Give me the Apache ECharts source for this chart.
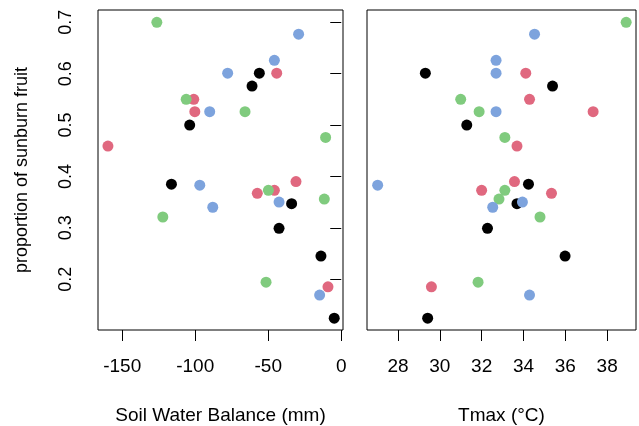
<!DOCTYPE html>
<html>
<head>
<meta charset="utf-8">
<script src="https://cdn.jsdelivr.net/npm/echarts@6/dist/echarts.min.js"></script>
<style>
  html, body { margin: 0; padding: 0; background: #fff; }
  #chart { width: 639px; height: 426px; }
</style>
</head>
<body>
<div id="chart"></div>
<script>
// groups (point colours) and the values
var groupColors = ["#000000", "#E0687F", "#80CB7E", "#7DA3DD"];

// soil water balance (mm), per group
var swbBlack = [-56.1, -61.1, -103.8, -116.3, -34.0, -42.6, -13.9, -4.8];
var swbRed   = [-44.2, -101.0, -100.3, -159.8, -31.0, -45.8, -57.5, -9.1];
var swbGreen = [-126.3, -106.2, -65.9, -10.7, -49.9, -11.6, -122.2, -51.5];
var swbBlue  = [-29.2, -45.8, -77.8, -90.1, -96.9, -42.6, -88.0, -14.8];

// Tmax (°C), per group
var tmaxBlack = [29.31, 35.39, 31.29, 34.24, 33.69, 32.28, 35.99, 29.42];
var tmaxRed   = [34.11, 34.29, 37.33, 33.69, 33.57, 32.0, 35.34, 29.6];
var tmaxGreen = [38.91, 31.0, 31.88, 33.11, 33.11, 32.83, 34.79, 31.83];
var tmaxBlue  = [34.53, 32.69, 32.69, 32.69, 27.03, 33.95, 32.53, 34.29];

// proportion of sunburn fruit, per group
var propBlack = [0.601, 0.576, 0.500, 0.385, 0.347, 0.299, 0.245, 0.124];
var propRed   = [0.601, 0.550, 0.526, 0.459, 0.390, 0.373, 0.367, 0.185];
var propGreen = [0.700, 0.550, 0.526, 0.476, 0.373, 0.356, 0.321, 0.194];
var propBlue  = [0.677, 0.626, 0.601, 0.526, 0.383, 0.350, 0.340, 0.169];

// tick labels
var yTicks = [0.2, 0.3, 0.4, 0.5, 0.6, 0.7];
var swbTicks = [-150, -100, -50, 0];
var tmaxTicks = [28, 30, 32, 34, 36, 38];

var swbGroups = [swbBlack, swbRed, swbGreen, swbBlue];
var tmaxGroups = [tmaxBlack, tmaxRed, tmaxGreen, tmaxBlue];
var propGroups = [propBlack, propRed, propGreen, propBlue];

var font = "Liberation Sans, Arial, sans-serif";

function pairs(xs, ys) {
  return xs.map(function (x, i) { return [x, ys[i]]; });
}

var series = [];
for (var g = 0; g < 4; g++) {
  series.push({
    type: "scatter", xAxisIndex: 0, yAxisIndex: 0,
    symbolSize: 11, itemStyle: { color: groupColors[g], opacity: 1 },
    data: pairs(swbGroups[g], propGroups[g])
  });
  series.push({
    type: "scatter", xAxisIndex: 1, yAxisIndex: 1,
    symbolSize: 11, itemStyle: { color: groupColors[g], opacity: 1 },
    data: pairs(tmaxGroups[g], propGroups[g])
  });
}

function xAxis(idx, min, max, ticks, name) {
  return {
    type: "value", gridIndex: idx, min: min, max: max,
    name: name, nameLocation: "middle", nameGap: 76,
    nameTextStyle: { color: "#000", fontSize: 19, fontFamily: font },
    axisLine: { show: false },
    axisTick: { show: true, length: 11, customValues: ticks, lineStyle: { color: "#000" } },
    axisLabel: { customValues: ticks, margin: 27, color: "#000", fontSize: 19, fontFamily: font },
    splitLine: { show: false }
  };
}

var chart = echarts.init(document.getElementById("chart"), null, { renderer: "canvas" });
chart.setOption({
  animation: false,
  backgroundColor: "#fff",
  grid: [
    { left: 98, top: 10, width: 245, height: 320, show: true, borderColor: "#000", borderWidth: 1, outerBoundsMode: "none" },
    { left: 367, top: 10, width: 269, height: 320, show: true, borderColor: "#000", borderWidth: 1, outerBoundsMode: "none" }
  ],
  xAxis: [
    xAxis(0, -166.6, 1.2, swbTicks, "Soil Water Balance (mm)"),
    xAxis(1, 26.52, 39.38, tmaxTicks, "Tmax (°C)")
  ],
  yAxis: [
    {
      type: "value", gridIndex: 0, min: 0.101, max: 0.724,
      name: "proportion of sunburn fruit", nameLocation: "middle", nameGap: 67,
      nameTextStyle: { color: "#000", fontSize: 18, fontFamily: font },
      axisLine: { show: false },
      axisTick: { show: true, length: 11, customValues: yTicks, lineStyle: { color: "#000" } },
      axisLabel: {
        customValues: yTicks, rotate: 90, margin: 23, color: "#000", fontSize: 18, fontFamily: font,
        formatter: function (v) { return v.toFixed(1); }
      },
      splitLine: { show: false }
    },
    {
      type: "value", gridIndex: 1, min: 0.101, max: 0.724,
      axisLine: { show: false }, axisTick: { show: false },
      axisLabel: { show: false }, splitLine: { show: false }
    }
  ],
  series: series
});
</script>
</body>
</html>
